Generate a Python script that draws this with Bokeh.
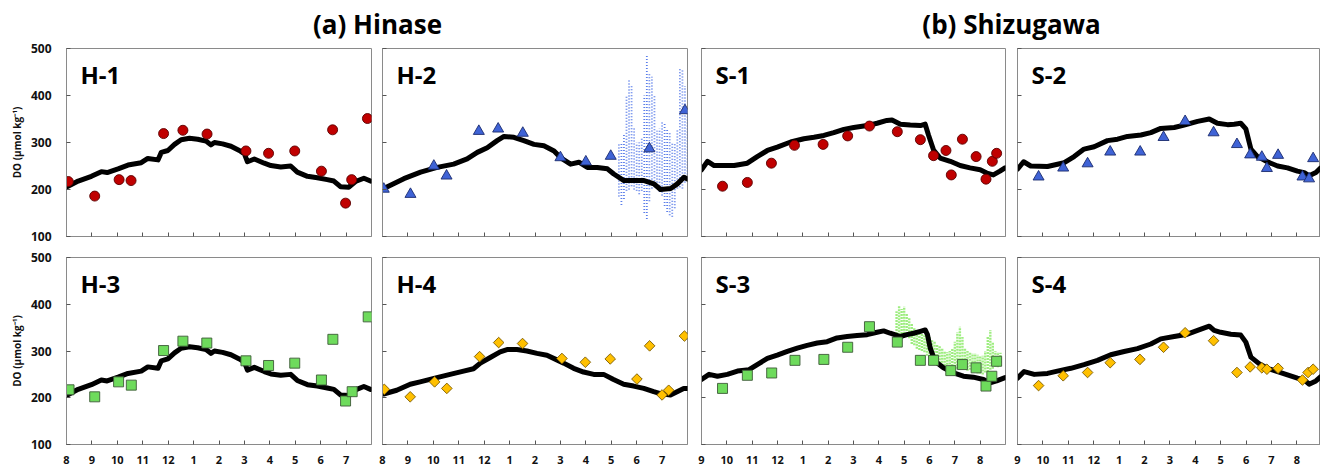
from bokeh.plotting import figure
from bokeh.layouts import column, row
from bokeh.models import Range1d, FixedTicker, Label, ColumnDataSource
from bokeh.embed import file_html
from bokeh.resources import INLINE

FONT = "Open Sans"

# ---------------- tick labels ----------------
HIN_MONTHS = ["8", "9", "10", "11", "12", "1", "2", "3", "4", "5", "6", "7"]
SHI_MONTHS = ["9", "10", "11", "12", "1", "2", "3", "4", "5", "6", "7", "8"]
Y_TICKS = [100, 200, 300, 400, 500]
Y_LABEL = "DO (\u03bcmol kg\u207b\u00b9)"

# ---------------- data (x = months since start of record) ----------------
# Hinase continuous record (H-1 / H-3)
HA_t = [0.0, 0.46, 0.98, 1.37, 1.6, 2.03, 2.42, 2.94, 3.2, 3.6, 3.73, 3.99, 4.25, 4.51, 4.84,
        5.16, 5.49, 5.68, 5.82, 6.14, 6.47, 6.8, 7.0, 7.12, 7.39, 7.78, 8.04, 8.43, 8.82, 9.08,
        9.48, 9.87, 10.26, 10.52, 10.78, 11.11, 11.37, 11.7, 11.96]
HA_v = [205, 218, 228, 238, 236, 244, 252, 257, 266, 263, 279, 283, 296, 306, 309,
        307, 303, 295, 300, 297, 292, 283, 276, 259, 265, 256, 251, 248, 250, 237,
        228, 225, 221, 218, 206, 205, 217, 224, 218]
# H-2 continuous record
H2_t = [0.05, 0.84, 1.5, 2.15, 2.8, 3.33, 3.73, 4.12, 4.51, 4.78, 5.17, 5.56, 5.96, 6.35, 6.75,
        7.0, 7.4, 7.73, 8.06, 8.45, 8.85, 9.1, 9.5, 9.9, 10.29, 10.68, 10.94, 11.34, 11.6, 11.86, 12.0]
H2_v = [202, 223, 237, 247, 254, 265, 279, 289, 304, 313, 311, 304, 296, 293, 282,
        268, 254, 258, 247, 247, 244, 233, 219, 219, 219, 212, 200, 202, 212, 226, 222]
# H-4 continuous record
H4_t = [0.04, 0.56, 1.09, 1.48, 2.14, 2.66, 3.19, 3.58, 3.85, 4.24, 4.63, 4.9, 5.29, 5.68, 6.08,
        6.47, 6.86, 7.13, 7.52, 7.91, 8.31, 8.7, 9.09, 9.49, 9.88, 10.28, 10.67, 10.93, 11.33,
        11.59, 11.85, 12.0]
H4_v = [208, 216, 229, 234, 243, 250, 257, 262, 274, 286, 298, 303, 303, 300, 295,
        291, 281, 274, 263, 255, 250, 250, 239, 229, 225, 220, 213, 209, 206,
        213, 220, 220]
# H-2 high-frequency sensor cloud (range of values per time step)
H2C_t = [9.3, 9.4, 9.5, 9.6, 9.7, 9.8, 9.9, 10.0, 10.1, 10.2, 10.3, 10.4, 10.5, 10.6, 10.7,
         10.8, 10.9, 11.0, 11.1, 11.2, 11.3, 11.4, 11.5, 11.6, 11.7, 11.8, 11.9, 12.0]
H2C_hi = [300, 300, 320, 400, 435, 420, 330, 300, 300, 310, 400, 485, 445, 440, 400,
          325, 330, 345, 340, 330, 320, 300, 300, 330, 460, 455, 420, 360]
H2C_lo = [185, 165, 180, 195, 200, 205, 200, 195, 190, 195, 150, 135, 175, 200, 205,
          200, 195, 185, 165, 150, 145, 140, 160, 200, 205, 200, 215, 230]

# Hinase discrete samples
H1_t = [0.07, 1.11, 2.07, 2.54, 3.82, 4.58, 5.53, 7.06, 7.95, 8.98, 10.03, 10.47, 10.98, 11.22, 11.84]
H1_v = [217, 186, 221, 219, 319, 326, 318, 282, 277, 282, 239, 327, 171, 221, 351]
H2_pt = [0.05, 1.1, 2.02, 2.52, 3.79, 4.55, 5.52, 7.0, 8.0, 8.98, 10.5, 11.9]
H2_pv = [201, 190, 250, 229, 324, 329, 320, 268, 259, 271, 287, 368]
H3_t = [0.1, 1.11, 2.05, 2.55, 3.82, 4.58, 5.52, 7.06, 7.95, 8.98, 10.03, 10.48, 10.98, 11.24, 11.87]
H3_v = [217, 202, 234, 227, 301, 321, 317, 279, 269, 274, 238, 325, 193, 213, 373]
H4_pt = [0.07, 1.09, 2.05, 2.53, 3.82, 4.57, 5.51, 7.06, 7.98, 8.96, 10.01, 10.51, 11.0, 11.26, 11.88]
H4_pv = [218, 202, 234, 220, 288, 318, 316, 284, 276, 283, 240, 311, 206, 216, 332]

# Shizugawa continuous records
S1_t = [0.0, 0.24, 0.5, 0.89, 1.29, 1.81, 2.2, 2.6, 2.99, 3.52, 4.04, 4.44, 4.83, 5.22, 5.62,
        6.01, 6.54, 6.93, 7.32, 7.52, 7.85, 8.24, 8.64, 8.83, 8.96, 9.16, 9.42, 9.82, 10.21,
        10.6, 11.0, 11.26, 11.52, 11.78, 11.98]
S1_v = [242, 260, 251, 251, 251, 256, 270, 283, 290, 301, 308, 311, 315, 321, 328,
        332, 336, 341, 347, 348, 339, 337, 336, 339, 316, 284, 267, 260, 251,
        246, 242, 235, 231, 239, 246]
S2_t = [0.0, 0.24, 0.52, 1.18, 1.84, 2.23, 2.62, 3.02, 3.54, 3.94, 4.33, 4.86, 5.25, 5.64, 6.17,
        6.56, 7.09, 7.55, 7.87, 8.27, 8.53, 8.79, 8.99, 9.19, 9.45, 9.84, 10.24, 10.63, 11.02,
        11.29, 11.48, 11.75, 11.94]
S2_v = [243, 259, 250, 249, 257, 270, 286, 291, 304, 307, 313, 316, 321, 330, 332,
        337, 345, 350, 341, 338, 339, 341, 329, 286, 270, 259, 250, 246, 239,
        236, 229, 236, 246]
S3_t = [0.0, 0.3, 0.63, 1.02, 1.42, 1.88, 2.2, 2.6, 2.99, 3.39, 3.78, 4.17, 4.57, 4.96, 5.35,
        5.75, 6.14, 6.54, 6.93, 7.19, 7.45, 7.85, 8.11, 8.37, 8.64, 8.83, 8.92, 9.03, 9.22, 9.55,
        9.95, 10.34, 10.73, 11.13, 11.39, 11.65, 11.98]
S3_v = [239, 250, 246, 250, 257, 260, 271, 284, 291, 299, 306, 312, 317, 320, 328,
        331, 333, 335, 340, 343, 338, 331, 335, 338, 342, 345, 335, 306, 278, 264,
        253, 246, 244, 239, 232, 236, 243]
S4_t = [0.0, 0.26, 0.66, 1.18, 1.57, 2.1, 2.62, 3.15, 3.67, 4.2, 4.72, 5.25, 5.64, 6.17, 6.69,
        7.09, 7.55, 7.74, 8.0, 8.4, 8.79, 8.99, 9.19, 9.51, 9.84, 10.24, 10.63, 11.02, 11.29,
        11.48, 11.75, 11.94]
S4_v = [242, 256, 250, 252, 257, 263, 271, 280, 292, 299, 305, 315, 326, 331, 336,
        344, 353, 344, 340, 336, 334, 319, 287, 273, 263, 256, 249, 242, 238,
        229, 236, 245]
# S-3 high-frequency sensor cloud
S3C_t = [7.7, 7.8, 7.9, 8.0, 8.1, 8.2, 8.3, 8.4, 8.5, 8.6, 8.7, 8.8, 8.9, 9.0, 9.1, 9.2, 9.3,
         9.4, 9.5, 9.6, 9.7, 9.8, 9.9, 10.0, 10.1, 10.2, 10.3, 10.4, 10.5, 10.6, 10.7, 10.8,
         10.9, 11.0, 11.1, 11.2, 11.3, 11.4, 11.5, 11.6, 11.7, 11.8]
S3C_hi = [385, 398, 390, 395, 380, 370, 360, 350, 345, 345, 340, 335, 335, 330, 325, 320, 315,
          310, 305, 300, 298, 300, 305, 320, 340, 352, 330, 305, 300, 298, 295, 295,
          292, 290, 290, 300, 330, 345, 320, 300, 298, 296]
S3C_lo = [330, 325, 330, 335, 330, 325, 315, 310, 305, 300, 300, 295, 290, 285, 280, 275, 270,
          265, 262, 260, 258, 256, 255, 258, 262, 265, 262, 260, 258, 258, 256, 254,
          252, 250, 250, 252, 255, 258, 262, 264, 265, 266]

# Shizugawa discrete samples
S1_pt = [0.83, 1.81, 2.76, 3.67, 4.8, 5.77, 6.63, 7.73, 8.64, 9.16, 9.65, 9.86, 10.3, 10.84, 11.23, 11.48, 11.65]
S1_pv = [207, 215, 256, 294, 296, 314, 335, 323, 306, 272, 283, 231, 307, 270, 222, 260, 277]
S2_pt = [0.83, 1.8, 2.76, 3.65, 4.83, 5.75, 6.6, 7.72, 8.64, 9.16, 9.62, 9.82, 10.26, 11.22, 11.48, 11.64]
S2_pv = [227, 246, 255, 280, 280, 311, 345, 321, 296, 274, 269, 245, 273, 227, 223, 266]
S3_pt = [0.83, 1.81, 2.77, 3.69, 4.83, 5.77, 6.63, 7.73, 8.64, 9.16, 9.84, 10.3, 10.84, 11.23, 11.46, 11.65]
S3_pv = [220, 248, 253, 280, 282, 308, 352, 319, 280, 280, 258, 271, 264, 225, 246, 278]
S4_pt = [0.83, 1.8, 2.76, 3.65, 4.82, 5.75, 6.6, 7.72, 8.64, 9.16, 9.62, 9.82, 10.26, 11.22, 11.44, 11.64]
S4_pv = [226, 247, 254, 275, 282, 308, 339, 322, 254, 266, 264, 261, 263, 238, 254, 261]

MARKERS = {
    "circle": dict(marker="circle", size=10, fill_color="#C00000", line_color="#5A0000"),
    "triangle": dict(marker="triangle", size=11, fill_color="#3F63D6", line_color="#1B2B6E"),
    "square": dict(marker="square", size=10, fill_color="#6EDB5C", line_color="#3D5A38"),
    "diamond": dict(marker="square", size=7.5, angle=0.7854, fill_color="#FFC000", line_color="#7A5A00"),
}


def panel(name, months, w, ml, mr, h, mt, mb, left_labels, bottom_labels, x_end=12):
    p = figure(width=w, height=h, x_range=Range1d(0, x_end), y_range=Range1d(100, 500),
               output_backend="svg", toolbar_location=None,
               min_border_left=ml, min_border_right=mr, min_border_top=mt, min_border_bottom=mb)
    p.xgrid.visible = False
    p.ygrid.visible = False
    p.outline_line_color = "#8A8A8A"
    p.outline_line_width = 1
    p.background_fill_color = "white"
    p.border_fill_color = "white"

    xa = p.xaxis[0]
    xa.ticker = FixedTicker(ticks=list(range(12)))
    xa.major_label_overrides = {i: m for i, m in enumerate(months)}
    xa.major_tick_in = 4
    xa.major_tick_out = 0
    xa.minor_tick_line_color = None
    xa.axis_line_color = "#8A8A8A"
    xa.major_tick_line_color = "#555555"
    xa.major_label_text_font = FONT
    xa.major_label_text_font_style = "bold"
    xa.major_label_text_font_size = "11px"
    if bottom_labels:
        xa.major_label_text_color = "#111111"
        xa.major_label_standoff = 11
    else:
        xa.major_label_text_color = None
        xa.major_label_standoff = 0

    ya = p.yaxis[0]
    ya.ticker = FixedTicker(ticks=Y_TICKS)
    ya.major_tick_in = 4
    ya.major_tick_out = 0
    ya.minor_tick_line_color = None
    ya.axis_line_color = "#8A8A8A"
    ya.major_tick_line_color = "#555555"
    ya.major_label_text_font = FONT
    ya.major_label_text_font_style = "bold"
    ya.major_label_text_font_size = "12px"
    if left_labels:
        ya.major_label_text_color = "#111111"
        ya.major_label_standoff = 15
        ya.axis_label = Y_LABEL
        ya.axis_label_text_font = FONT
        ya.axis_label_text_font_style = "bold"
        ya.axis_label_text_font_size = "10px"
        ya.axis_label_text_color = "#111111"
        ya.axis_label_standoff = 4
    else:
        ya.major_label_text_color = None
        ya.major_label_standoff = 0

    p.add_layout(Label(x=0, y=500, x_offset=14, y_offset=-9, text=name,
                       text_font=FONT, text_font_style="bold", text_font_size="24px",
                       text_color="#000000", text_baseline="top", text_align="left"))
    return p


def add_line(p, t, v):
    p.line(t, v, line_color="#000000", line_width=5, line_join="round", line_cap="round")


def add_points(p, t, v, kind):
    p.scatter(t, v, line_width=0.9, **MARKERS[kind])


def add_cloud(p, t, lo, hi, color, dash, width, alpha):
    even = ColumnDataSource(dict(t=t[0::2], lo=lo[0::2], hi=hi[0::2]))
    odd = ColumnDataSource(dict(t=t[1::2], lo=lo[1::2], hi=hi[1::2]))
    p.segment(x0="t", y0="lo", x1="t", y1="hi", source=even, line_color=color,
              line_width=width, line_dash=dash, line_alpha=alpha)
    p.segment(x0="t", y0="lo", x1="t", y1="hi", source=odd, line_color=color,
              line_width=width, line_dash=dash, line_dash_offset=2, line_alpha=alpha)


# column geometry
# H col1: frame 66..371 ; H col2: 382..687 ; S col3: 701..1005 ; S col4: 1017..1320
# row1 height 210, row2 height 224, title 40
H1 = panel("H-1", HIN_MONTHS, 376, 66, 5, 210, 8, 12, True, False)
add_line(H1, HA_t, HA_v)
add_points(H1, H1_t, H1_v, "circle")

H2 = panel("H-2", HIN_MONTHS, 317, 6, 6, 210, 8, 12, False, False)
add_cloud(H2, H2C_t, H2C_lo, H2C_hi, "#3D66E6", "1 2", 1.8, 0.85)
add_line(H2, H2_t, H2_v)
add_points(H2, H2_pt, H2_pv, "triangle")

S1 = panel("S-1", SHI_MONTHS, 318, 8, 6, 210, 7, 14, False, False)
add_line(S1, S1_t, S1_v)
add_points(S1, S1_pt, S1_pv, "circle")

S2 = panel("S-2", SHI_MONTHS, 309, 6, 0, 210, 7, 14, False, False, x_end=11.93)
add_line(S2, S2_t, S2_v)
add_points(S2, S2_pt, S2_pv, "triangle")

H3 = panel("H-3", HIN_MONTHS, 376, 66, 5, 224, 7, 26, True, True)
add_line(H3, HA_t, HA_v)
add_points(H3, H3_t, H3_v, "square")

H4 = panel("H-4", HIN_MONTHS, 317, 6, 6, 224, 7, 26, False, True)
add_line(H4, H4_t, H4_v)
add_points(H4, H4_pt, H4_pv, "diamond")

S3 = panel("S-3", SHI_MONTHS, 318, 8, 6, 224, 5, 30, False, True)
add_cloud(S3, S3C_t, S3C_lo, S3C_hi, "#86E860", "2 1", 2.4, 0.8)
add_line(S3, S3_t, S3_v)
add_points(S3, S3_pt, S3_pv, "square")

S4 = panel("S-4", SHI_MONTHS, 309, 6, 0, 224, 5, 30, False, True, x_end=11.93)
add_line(S4, S4_t, S4_v)
add_points(S4, S4_pt, S4_pv, "diamond")

# title strip
T = figure(width=1320, height=40, x_range=Range1d(0, 1320), y_range=Range1d(0, 40),
           output_backend="svg", toolbar_location=None,
           min_border_left=0, min_border_right=0, min_border_top=0, min_border_bottom=0)
T.axis.visible = False
T.xgrid.visible = False
T.ygrid.visible = False
T.outline_line_color = None
for txt, cx in [("(a) Hinase", 377), ("(b) Shizugawa", 1011)]:
    T.add_layout(Label(x=cx, y=17, text=txt, text_font=FONT, text_font_style="bold",
                       text_font_size="26px", text_color="#000000",
                       text_align="center", text_baseline="middle"))

layout = column(T, row(H1, H2, S1, S2, spacing=0), row(H3, H4, S3, S4, spacing=0), spacing=0)

with open("out.html", "w") as f:
    f.write(file_html(layout, INLINE))
